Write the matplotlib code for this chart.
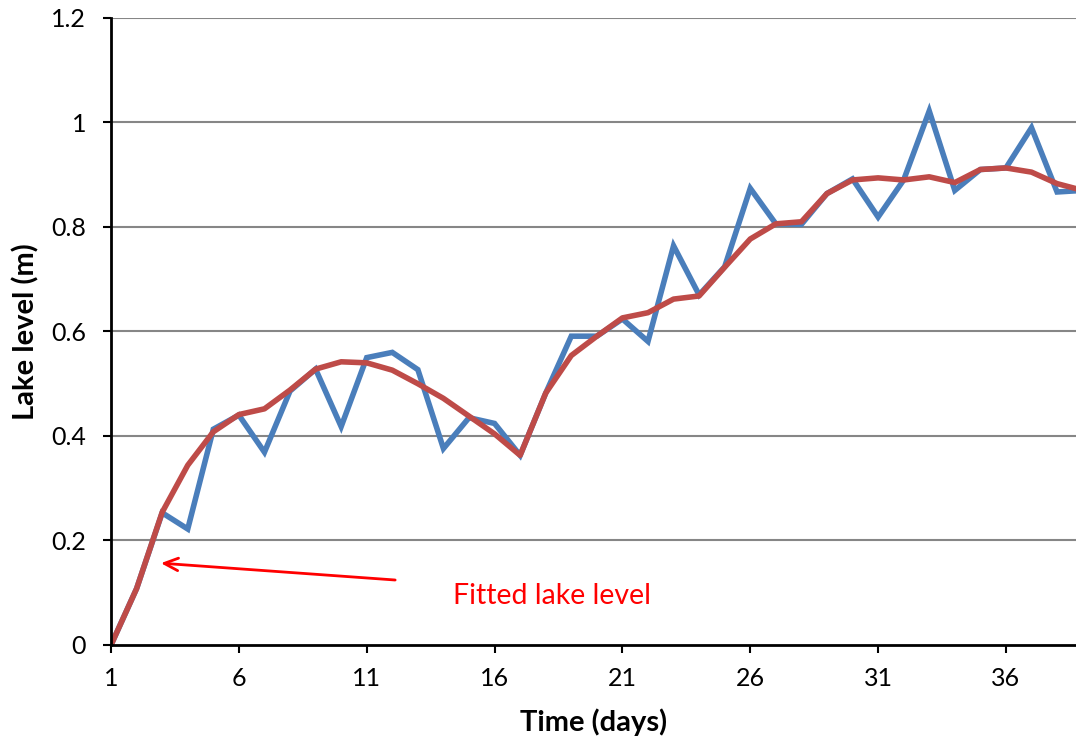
"""
plot.py
-------
Measured vs fitted lake level over time, drawn as two lines
in the style of a spreadsheet line chart.
"""

import matplotlib
matplotlib.use("Agg")
import matplotlib.pyplot as plt


days = list(range(1, 40))

measured_level = [
    0.000, 0.108, 0.253, 0.222, 0.413, 0.440, 0.369, 0.486, 0.528, 0.418,
    0.550, 0.560, 0.527, 0.376, 0.435, 0.424, 0.363, 0.482, 0.591, 0.591,
    0.624, 0.581, 0.764, 0.670, 0.724, 0.874, 0.806, 0.805, 0.864, 0.892,
    0.819, 0.890, 1.022, 0.870, 0.910, 0.913, 0.990, 0.867, 0.870,
]

fitted_level = [
    0.000, 0.108, 0.254, 0.344, 0.408, 0.441, 0.452, 0.488, 0.528, 0.542,
    0.540, 0.526, 0.500, 0.472, 0.438, 0.404, 0.363, 0.482, 0.554, 0.591,
    0.626, 0.636, 0.662, 0.668, 0.723, 0.777, 0.806, 0.810, 0.864, 0.890,
    0.894, 0.890, 0.896, 0.885, 0.910, 0.913, 0.905, 0.883, 0.870,
]

x_ticks = [1, 6, 11, 16, 21, 26, 31, 36]
y_ticks = [0, 0.2, 0.4, 0.6, 0.8, 1.0, 1.2]
y_tick_labels = ["0", "0.2", "0.4", "0.6", "0.8", "1", "1.2"]


def main():
    plt.rcParams["font.family"] = ["Lato", "DejaVu Sans"]

    fig = plt.figure(figsize=(10.76, 7.43), dpi=100)
    ax = fig.add_axes([0.1032, 0.1319, 0.8968, 0.8439])

    # gridlines behind the data
    for y in y_ticks[1:]:
        ax.axhline(y, color="#868686", lw=1.5, zorder=1)

    ax.plot(days, measured_level, color="#4A7EBB", lw=4.0,
            solid_joinstyle="miter", zorder=3)
    ax.plot(days, fitted_level, color="#BE4B48", lw=4.0,
            solid_joinstyle="round", zorder=4)

    ax.set_xlim(1, 38.74)
    ax.set_ylim(0, 1.2)

    ax.set_xticks(x_ticks)
    ax.set_xticklabels([str(t) for t in x_ticks])
    ax.set_yticks(y_ticks)
    ax.set_yticklabels(y_tick_labels)

    ax.tick_params(axis="both", direction="out", length=6, width=1.5,
                   labelsize=18, colors="black")
    ax.tick_params(axis="y", pad=12)
    ax.tick_params(axis="x", pad=10)

    for side in ["top", "right"]:
        ax.spines[side].set_visible(False)
    for side in ["left", "bottom"]:
        ax.spines[side].set_linewidth(2)
        ax.spines[side].set_zorder(5)

    ax.set_xlabel("Time (days)", fontsize=21, fontweight="bold", labelpad=13)
    ax.set_ylabel("Lake level (m)", fontsize=21, fontweight="bold", labelpad=8)

    ax.annotate(
        "",
        xy=(2.84, 0.157),
        xytext=(12.22, 0.124),
        arrowprops=dict(arrowstyle="->,head_length=1.0,head_width=0.45",
                        color="#FF0000", lw=2),
        zorder=6,
    )
    ax.text(18.25, 0.094, "Fitted lake level", color="#FF0000",
            fontsize=20.5, ha="center", va="center", zorder=6)

    fig.savefig("out.png", dpi=100)


if __name__ == "__main__":
    main()
